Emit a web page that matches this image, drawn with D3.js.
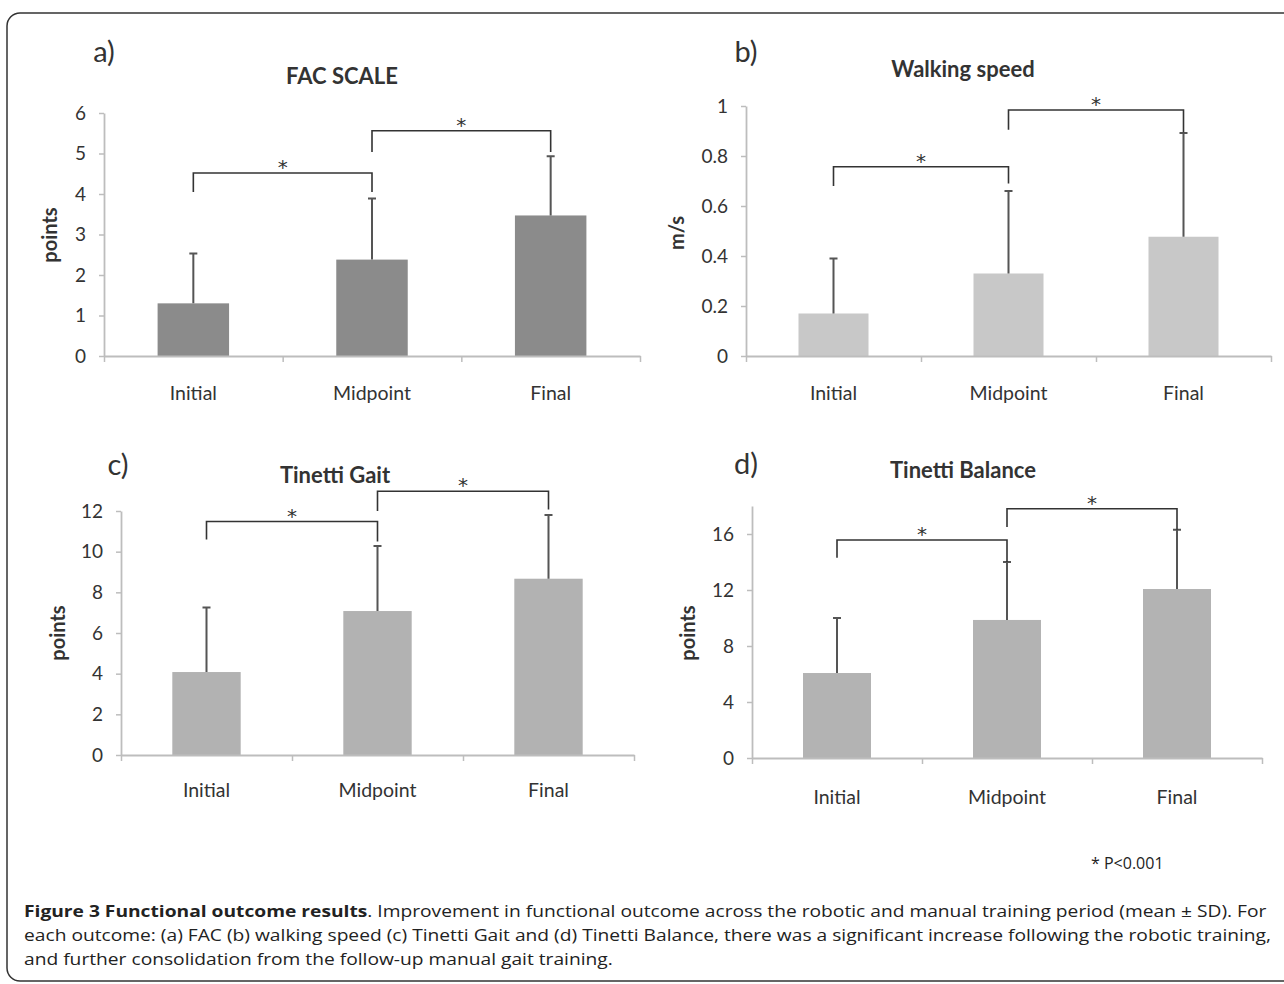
<!DOCTYPE html>
<html>
<head>
<meta charset="utf-8">
<script src="https://cdn.jsdelivr.net/npm/d3@7"></script>
<style>
  body { margin: 0; background: #fff; }
  svg text { font-family: Lato, "Open Sans", sans-serif; fill: #333; }
</style>
</head>
<body>
<svg id="fig" width="1284" height="984"></svg>
<script>
const categories = ["Initial", "Midpoint", "Final"];

// FAC scale (points)
const facMean = [1.3, 2.38, 3.47];
const facSD = [1.23, 1.51, 1.46];
const facTicks = [0, 1, 2, 3, 4, 5, 6];
const facBracketTop = [4.52, 5.56];
const facBracketFeet = [[4.05, 4.05], [5.04, 5.04]];

// walking speed (m/s)
const speedMean = [0.17, 0.33, 0.477];
const speedSD = [0.22, 0.33, 0.415];
const speedTicks = [0, 0.2, 0.4, 0.6, 0.8, 1];
const speedBracketTop = [0.757, 0.984];
const speedBracketFeet = [[0.68, 0.69], [0.905, 0.895]];

// Tinetti gait (points)
const gaitMean = [4.08, 7.08, 8.67];
const gaitSD = [3.17, 3.2, 3.13];
const gaitTicks = [0, 2, 4, 6, 8, 10, 12];
const gaitBracketTop = [11.48, 12.97];
const gaitBracketFeet = [[10.6, 10.5], [12.0, 12.07]];

// Tinetti balance (points)
const balanceMean = [6.07, 9.86, 12.07];
const balanceSD = [3.93, 4.14, 4.23];
const balanceTicks = [0, 4, 8, 12, 16];
const balanceBracketTop = [15.57, 17.8];
const balanceBracketFeet = [[14.3, 14.0], [16.5, 16.3]];

const svg = d3.select("#fig");

// outer frame of the figure
svg.append("rect")
    .attr("x", 7).attr("y", 13)
    .attr("width", 1320).attr("height", 968)
    .attr("rx", 13)
    .attr("fill", "none")
    .attr("stroke", "#333")
    .attr("stroke-width", 1.5);

function drawPanel(p) {
    const g = svg.append("g");

    const x = d3.scaleBand()
        .domain(categories)
        .range([p.left, p.right])
        .padding(0);

    const edges = d3.scaleLinear()
        .domain([0, categories.length])
        .range([p.left, p.right]);

    const y = d3.scaleLinear()
        .domain([0, p.yMax])
        .range([p.bottom, p.top]);

    const barW = x.bandwidth() * 0.4;

    // bars
    g.selectAll(".bar")
        .data(p.mean)
        .join("rect")
        .attr("x", (d, i) => x(categories[i]) + (x.bandwidth() - barW) / 2)
        .attr("y", d => y(d))
        .attr("width", barW)
        .attr("height", d => y(0) - y(d))
        .attr("fill", p.color);

    // error bars (upper half only)
    const cx = i => x(categories[i]) + x.bandwidth() / 2;
    g.selectAll(".err")
        .data(p.mean)
        .join("path")
        .attr("d", (d, i) => "M" + cx(i) + "," + y(d) + "V" + y(d + p.sd[i]) +
            "M" + (cx(i) - 4) + "," + y(d + p.sd[i]) + "H" + (cx(i) + 4))
        .attr("fill", "none")
        .attr("stroke", "#555")
        .attr("stroke-width", 2);

    // y axis
    const yAxis = g.append("g")
        .attr("transform", "translate(" + p.left + ",0)")
        .call(d3.axisLeft(y)
            .tickValues(p.ticks)
            .tickFormat(d => String(d))
            .tickSize(5)
            .tickSizeOuter(0)
            .tickPadding(13));

    // x axis: tick marks on the category edges, labels on the centres
    const xAxis = g.append("g")
        .attr("transform", "translate(0," + p.bottom + ")")
        .call(d3.axisBottom(edges)
            .tickValues(d3.range(categories.length + 1))
            .tickFormat("")
            .tickSize(6)
            .tickSizeOuter(0));

    const xLabels = g.append("g")
        .attr("transform", "translate(0," + p.labelY + ")")
        .call(d3.axisBottom(x).tickSize(0).tickPadding(0));
    xLabels.select(".domain").remove();
    xLabels.selectAll("text")
        .attr("dy", "0.35em")
        .attr("y", 0);

    [yAxis, xAxis].forEach(a => {
        a.select(".domain").attr("stroke", "#bdbdbd").attr("stroke-width", 1.8);
        a.selectAll(".tick line").attr("stroke", "#bdbdbd").attr("stroke-width", 1.5);
    });
    yAxis.selectAll("text")
        .attr("fill", "#333")
        .style("font-family", "Lato, sans-serif")
        .style("font-size", "19px");
    xLabels.selectAll("text")
        .attr("fill", "#333")
        .style("font-family", "Lato, sans-serif")
        .style("font-size", "19.5px");

    // significance brackets
    p.bracketTop.forEach((top, k) => {
        const xl = cx(k), xr = cx(k + 1);
        g.append("path")
            .attr("d", "M" + xl + "," + y(p.bracketFeet[k][0]) + "V" + y(top) +
                "H" + xr + "V" + y(p.bracketFeet[k][1]))
            .attr("fill", "none")
            .attr("stroke", "#333")
            .attr("stroke-width", 1.6);
        g.append("text")
            .attr("x", (xl + xr) / 2)
            .attr("y", y(top) + 1)
            .attr("text-anchor", "middle")
            .style("font-family", "DejaVu Sans, sans-serif")
            .style("font-size", "20px")
            .text("*");
    });

    // titles
    g.append("text")
        .attr("x", p.letterX).attr("y", p.letterY)
        .attr("dominant-baseline", "central")
        .attr("text-anchor", "middle")
        .style("font-size", "29px")
        .text(p.letter);

    g.append("text")
        .attr("x", p.titleX).attr("y", p.titleY)
        .attr("dominant-baseline", "central")
        .attr("text-anchor", "middle")
        .style("font-size", "22px")
        .style("font-weight", "bold")
        .text(p.title);

    g.append("text")
        .attr("transform", "translate(" + p.unitX + "," + p.unitY + ") rotate(-90)")
        .attr("dominant-baseline", "central")
        .attr("text-anchor", "middle")
        .style("font-size", "20px")
        .style("font-weight", "bold")
        .text(p.unit);
}

drawPanel({
    mean: facMean, sd: facSD, ticks: facTicks, yMax: 6,
    bracketTop: facBracketTop, bracketFeet: facBracketFeet,
    left: 104, right: 640, bottom: 356, top: 113, labelY: 393,
    color: "#8b8b8b", letter: "a)", letterX: 104, letterY: 50,
    title: "FAC SCALE", titleX: 342, titleY: 75,
    unit: "points", unitX: 49, unitY: 235
});

drawPanel({
    mean: speedMean, sd: speedSD, ticks: speedTicks, yMax: 1,
    bracketTop: speedBracketTop, bracketFeet: speedBracketFeet,
    left: 746, right: 1271, bottom: 356, top: 106, labelY: 393,
    color: "#c8c8c8", letter: "b)", letterX: 746, letterY: 50,
    title: "Walking speed", titleX: 963, titleY: 68,
    unit: "m/s", unitX: 676, unitY: 233
});

drawPanel({
    mean: gaitMean, sd: gaitSD, ticks: gaitTicks, yMax: 12,
    bracketTop: gaitBracketTop, bracketFeet: gaitBracketFeet,
    left: 121, right: 634, bottom: 755, top: 511, labelY: 790,
    color: "#b2b2b2", letter: "c)", letterX: 118, letterY: 463,
    title: "Tinetti Gait", titleX: 335, titleY: 474,
    unit: "points", unitX: 57, unitY: 633
});

drawPanel({
    mean: balanceMean, sd: balanceSD, ticks: balanceTicks, yMax: 18,
    bracketTop: balanceBracketTop, bracketFeet: balanceBracketFeet,
    left: 752, right: 1262, bottom: 758, top: 506, labelY: 797,
    color: "#b3b3b3", letter: "d)", letterX: 746, letterY: 462,
    title: "Tinetti Balance", titleX: 963, titleY: 469,
    unit: "points", unitX: 687, unitY: 633
});

// footnote
svg.append("text")
    .attr("x", 1091).attr("y", 869)
    .style("font-family", "Open Sans, sans-serif")
    .style("font-size", "16px")
    .style("fill", "#222")
    .text("*  P<0.001");

// caption
const captionLines = [
    [["Figure 3 Functional outcome results", true],
     [". Improvement in functional outcome across the robotic and manual training period (mean ± SD). For", false]],
    [["each outcome: (a) FAC (b) walking speed (c) Tinetti Gait and (d) Tinetti Balance, there was a significant increase following the robotic training,", false]],
    [["and further consolidation from the follow-up manual gait training.", false]]
];

const capFont = 15.6;
const cap = svg.append("g");
const capNodes = captionLines.map((line, i) => {
    const t = cap.append("text")
        .attr("x", 0)
        .attr("y", 0)
        .style("font-family", "Open Sans, sans-serif")
        .style("font-size", capFont + "px")
        .style("fill", "#222");
    line.forEach(([s, bold]) => {
        t.append("tspan")
            .style("font-weight", bold ? "bold" : "normal")
            .text(s);
    });
    return t;
});
// widen slightly so the lines end about where the original ones do
const w1 = capNodes[0].node().getComputedTextLength();
const w2 = capNodes[1].node().getComputedTextLength();
const sx = (1252 + 1238) / (w1 + w2);
capNodes.forEach((t, i) =>
    t.attr("transform", "translate(24," + (917 + i * 24) + ") scale(" + sx + ",1)"));
</script>
</body>
</html>
